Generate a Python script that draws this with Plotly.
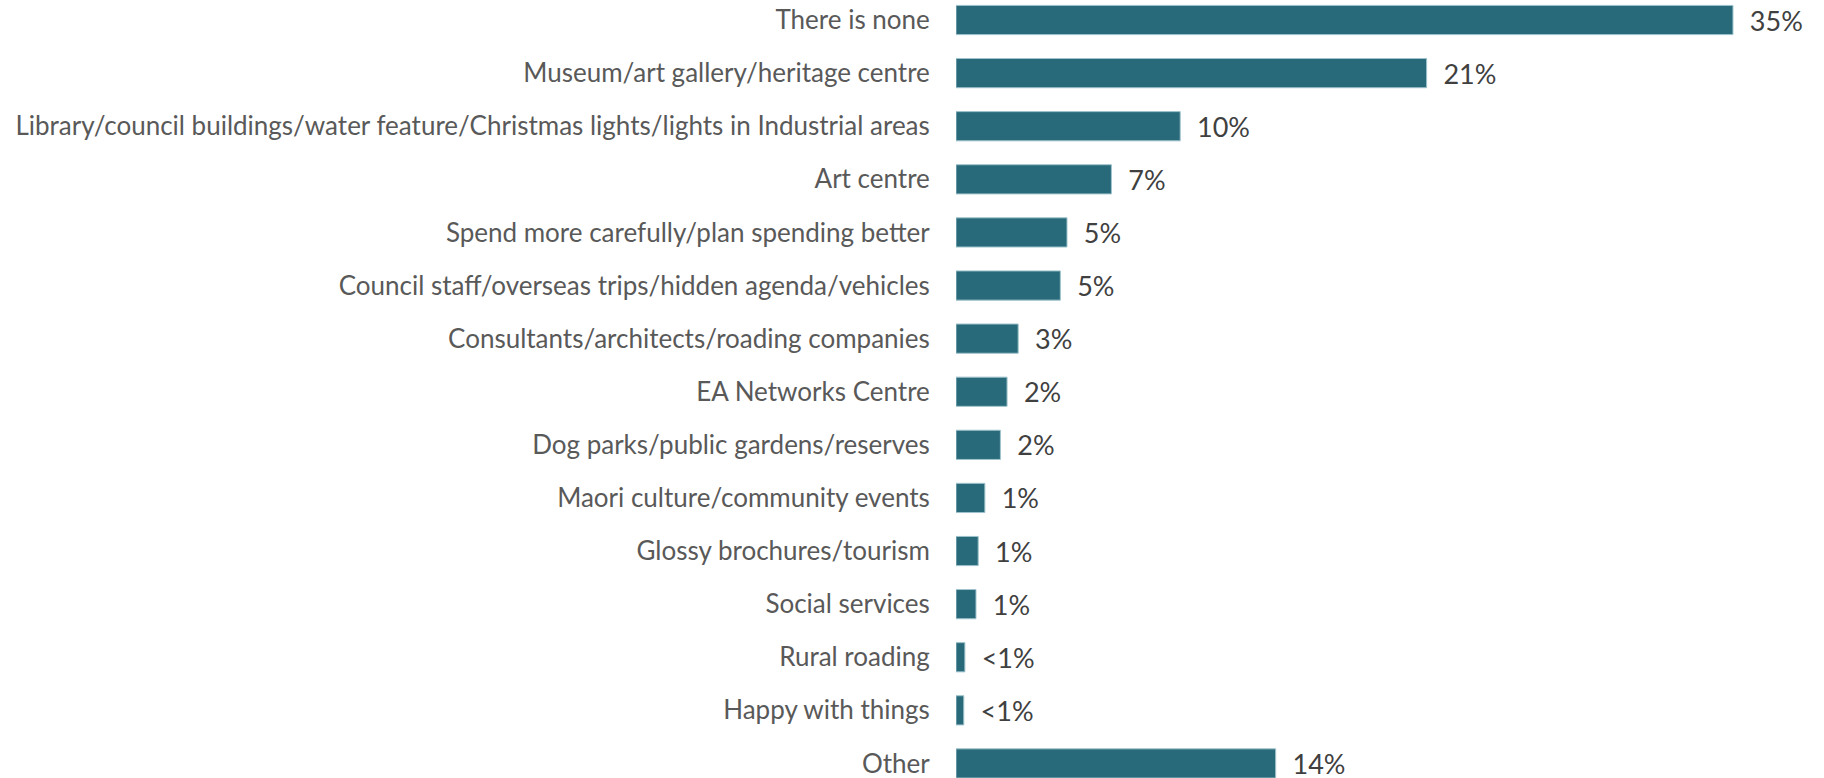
import plotly.graph_objects as go

categories = [
    'There is none',
    'Museum/art gallery/heritage centre',
    'Library/council buildings/water feature/Christmas lights/lights in Industrial areas',
    'Art centre',
    'Spend more carefully/plan spending better',
    'Council staff/overseas trips/hidden agenda/vehicles',
    'Consultants/architects/roading companies',
    'EA Networks Centre',
    'Dog parks/public gardens/reserves',
    'Maori culture/community events',
    'Glossy brochures/tourism',
    'Social services',
    'Rural roading',
    'Happy with things',
    'Other',
]
values = [35.0, 21.2, 10.1, 7.0, 5.0, 4.7, 2.8, 2.3, 2.0, 1.3, 1.0, 0.9, 0.4, 0.35, 14.4]
value_labels = ['35%', '21%', '10%', '7%', '5%', '5%', '3%', '2%', '2%', '1%', '1%', '1%', '<1%', '<1%', '14%']

fig = go.Figure()

fig.add_trace(go.Bar(
    x=values,
    y=categories,
    orientation='h',
    marker=dict(color='#286A7A', line=dict(color='#9FC3CC', width=1)),
    text=['\u00a0\u00a0' + t for t in value_labels],
    textposition='outside',
    constraintext='none',
    textfont=dict(family='Lato', size=27, color='#404040'),
    cliponaxis=False,
    width=0.55,
    hoverinfo='skip'
))

fig.update_layout(
    width=1824,
    height=778,
    margin=dict(l=956, r=0, t=0, b=0),
    paper_bgcolor='white',
    plot_bgcolor='white',
    showlegend=False,
    font=dict(family='Lato', size=26, color='#595959'),
    xaxis=dict(range=[0, 39.1], visible=False, showgrid=False, zeroline=False, automargin=False),
    yaxis=dict(
        type='category',
        range=[14.274, -0.377],
        showgrid=False,
        zeroline=False,
        showline=False,
        automargin=False,
        ticks='outside',
        ticklen=20,
        tickcolor='rgba(0,0,0,0)',
        tickfont=dict(family='Lato', size=26, color='#595959'),
    ),
)

# page body has a default 8px margin; drop it so the figure fills the window
fig.write_html(
    'out.html',
    config={'displayModeBar': False},
    post_script="document.body.style.margin='0px';"
)
